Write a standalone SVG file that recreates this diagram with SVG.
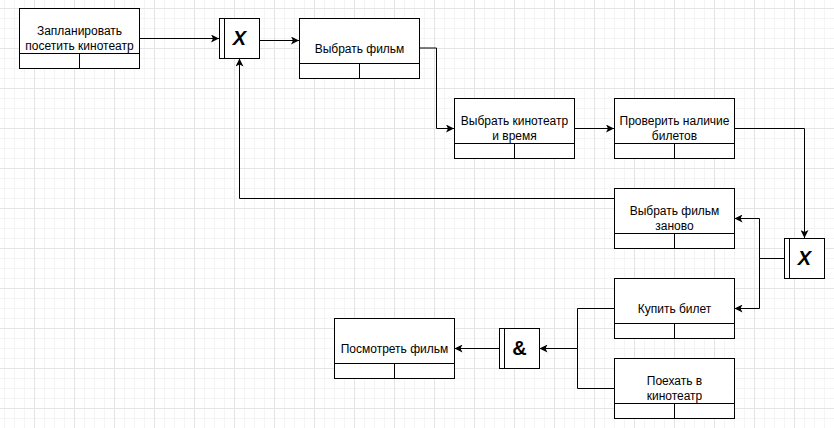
<svg xmlns="http://www.w3.org/2000/svg" width="834" height="428" viewBox="0 0 834 428">
  <style>
    .box { fill: #ffffff; stroke: #000000; stroke-width: 1; }
    .ln { fill: none; stroke: #000000; stroke-width: 1; }
    .lbl { font-family: "Liberation Sans", Arial, Helvetica, sans-serif; font-size: 12px; fill: #000000; text-anchor: middle; }
    .gx { font-family: "Liberation Sans", Arial, Helvetica, sans-serif; font-size: 20px; font-weight: bold; font-style: italic; fill: #000000; text-anchor: middle; }
    .ga { font-family: "Liberation Sans", Arial, Helvetica, sans-serif; font-size: 20px; font-weight: bold; fill: #000000; text-anchor: middle; }
    .conn { fill: none; stroke: #000000; stroke-width: 1; marker-end: url(#arrow); }
  </style>
  <defs>
    <pattern id="grid" width="40" height="40" patternUnits="userSpaceOnUse" x="34" y="8">
      <path d="M10.5,0 V40 M20.5,0 V40 M30.5,0 V40 M0,10.5 H40 M0,20.5 H40 M0,30.5 H40" fill="none" stroke="#f4f4f4" stroke-width="1"/>
      <path d="M0.5,0 V40 M0,0.5 H40" fill="none" stroke="#e4e4e4" stroke-width="1"/>
    </pattern>
    <marker id="arrow" viewBox="0 0 8 8" refX="8" refY="4" markerWidth="8" markerHeight="8" markerUnits="userSpaceOnUse" orient="auto">
      <path d="M0,0 L8,4 L0,8 L2,4 Z" fill="#000000"/>
    </marker>
  </defs>

  <rect x="0" y="0" width="834" height="428" fill="#ffffff"/>
  <rect x="0" y="0" width="834" height="428" fill="url(#grid)"/>

  <g id="connectors">
    <path class="conn" d="M139.5,38.5 H219"/>
    <path class="conn" d="M259.5,40.5 H299"/>
    <path class="conn" d="M419.5,48 H436.5 V128.5 H454"/>
    <path class="conn" d="M574.5,128.5 H614"/>
    <path class="conn" d="M734.5,128.5 H804.5 V238"/>
    <path class="conn" d="M784.5,258.5 H759.5 V218.5 H734.5"/>
    <path class="conn" d="M759.5,258.5 V308.5 H734.5"/>
    <path class="conn" d="M614.5,198.5 H239.5 V58.5"/>
    <path class="conn" d="M614.5,308.5 H577.5 V348.5 H539.5"/>
    <path class="ln" d="M614.5,388.5 H577.5 V348.5"/>
    <path class="conn" d="M499.5,348.5 H454.5"/>
  </g>

  <g id="node-plan">
    <rect class="box" x="19.5" y="8.5" width="120" height="60"/>
    <path class="ln" d="M19.5,53.5 H139.5 M79.5,53.5 V68.5"/>
    <text class="lbl" x="79.5" y="35">Запланировать</text>
    <text class="lbl" x="79.5" y="50">посетить кинотеатр</text>
  </g>

  <g id="gate-x1">
    <rect class="box" x="219.5" y="18.5" width="40" height="40"/>
    <path class="ln" d="M224.5,18.5 V58.5"/>
    <text class="gx" x="239.5" y="45">X</text>
  </g>

  <g id="node-choose-film">
    <rect class="box" x="299.5" y="18.5" width="120" height="60"/>
    <path class="ln" d="M299.5,63.5 H419.5 M359.5,63.5 V78.5"/>
    <text class="lbl" x="359.5" y="52.5">Выбрать фильм</text>
  </g>

  <g id="node-choose-cinema">
    <rect class="box" x="454.5" y="98.5" width="120" height="60"/>
    <path class="ln" d="M454.5,143.5 H574.5 M514.5,143.5 V158.5"/>
    <text class="lbl" x="514.5" y="125">Выбрать кинотеатр</text>
    <text class="lbl" x="514.5" y="140">и время</text>
  </g>

  <g id="node-check-tickets">
    <rect class="box" x="614.5" y="98.5" width="120" height="60"/>
    <path class="ln" d="M614.5,143.5 H734.5 M674.5,143.5 V158.5"/>
    <text class="lbl" x="674.5" y="125">Проверить наличие</text>
    <text class="lbl" x="674.5" y="140">билетов</text>
  </g>

  <g id="gate-x2">
    <rect class="box" x="784.5" y="238.5" width="40" height="40"/>
    <path class="ln" d="M789.5,238.5 V278.5"/>
    <text class="gx" x="804.5" y="265">X</text>
  </g>

  <g id="node-rechoose-film">
    <rect class="box" x="614.5" y="188.5" width="120" height="60"/>
    <path class="ln" d="M614.5,233.5 H734.5 M674.5,233.5 V248.5"/>
    <text class="lbl" x="674.5" y="215">Выбрать фильм</text>
    <text class="lbl" x="674.5" y="230">заново</text>
  </g>

  <g id="node-buy-ticket">
    <rect class="box" x="614.5" y="278.5" width="120" height="60"/>
    <path class="ln" d="M614.5,323.5 H734.5 M674.5,323.5 V338.5"/>
    <text class="lbl" x="674.5" y="312.5">Купить билет</text>
  </g>

  <g id="node-go-cinema">
    <rect class="box" x="614.5" y="358.5" width="120" height="60"/>
    <path class="ln" d="M614.5,403.5 H734.5 M674.5,403.5 V418.5"/>
    <text class="lbl" x="674.5" y="385">Поехать в</text>
    <text class="lbl" x="674.5" y="400">кинотеатр</text>
  </g>

  <g id="gate-and">
    <rect class="box" x="499.5" y="328.5" width="40" height="40"/>
    <path class="ln" d="M504.5,328.5 V368.5"/>
    <text class="ga" x="519.5" y="355">&amp;</text>
  </g>

  <g id="node-watch-film">
    <rect class="box" x="334.5" y="318.5" width="120" height="60"/>
    <path class="ln" d="M334.5,363.5 H454.5 M394.5,363.5 V378.5"/>
    <text class="lbl" x="394.5" y="352.5">Посмотреть фильм</text>
  </g>
</svg>
